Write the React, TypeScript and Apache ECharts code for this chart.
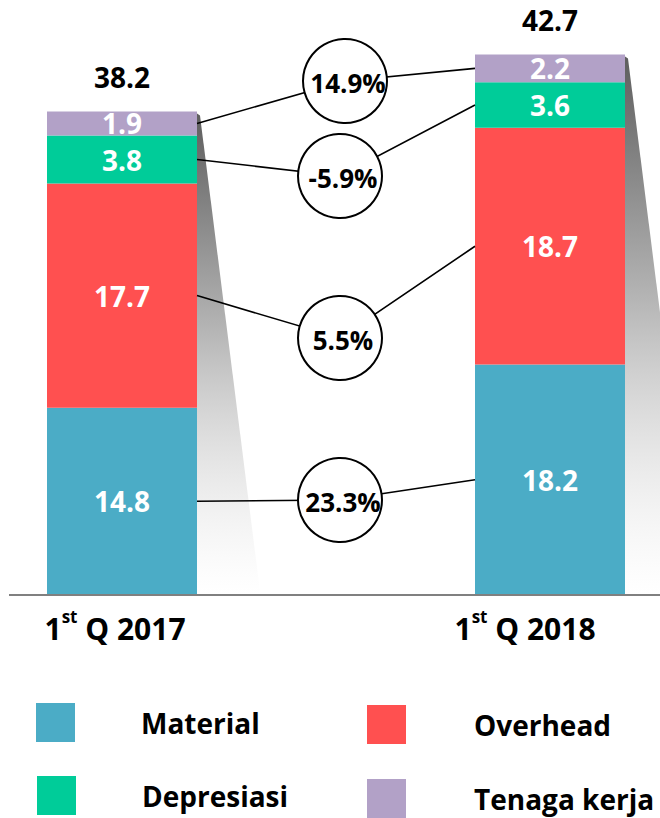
import React, { useEffect, useRef } from "react";
import * as echarts from "echarts";

// ---- data ----
const categories = ["1st Q 2017", "1st Q 2018"];
const seriesNames = ["Material", "Overhead", "Depresiasi", "Tenaga kerja"];
const material = [14.8, 18.2];
const overhead = [17.7, 18.7];
const depresiasi = [3.8, 3.6];
const tenagaKerja = [1.9, 2.2];
// growth labels per component (same order as seriesNames)
const growthLabels = ["23.3%", "5.5%", "-5.9%", "14.9%"];

// ---- styling / layout ----
const colors = ["#4BACC6", "#FF5050", "#00CC99", "#B2A1C7"];
const FONT = "Open Sans";
const BAR_W = 150;
const circleCenters = [
  [340, 500],
  [340, 338],
  [340, 176],
  [345, 81],
];
const catLabelPadding = [
  [0, 14, 0, 0],
  [0, 50, 0, 0],
];
// legend item positions (left, top, text padding-left), same order as seriesNames
const legendPos = [
  [36, 703, 61],
  [367, 705, 63],
  [37, 776, 61],
  [367, 779, 63],
];

export default function App() {
  const ref = useRef<HTMLDivElement>(null);

  useEffect(() => {
    if (!ref.current) return;
    const chart = echarts.init(ref.current, undefined, { renderer: "svg" });
    const seriesData = [material, overhead, depresiasi, tenagaKerja];
    const totals = categories.map((_, i) =>
      Math.round(seriesData.reduce((s, d) => s + d[i], 0) * 10) / 10
    );

    const labelStyle = {
      show: true,
      position: "inside",
      color: "#fff",
      fontSize: 28,
      fontWeight: "bold",
      fontFamily: FONT,
      formatter: (p: any) => Number(p.value).toFixed(1),
    };

    const option: any = {
      animation: false,
      textStyle: { fontFamily: FONT },
      grid: { left: 122, right: 110, top: 0, bottom: 223 },
      xAxis: {
        type: "category",
        boundaryGap: false,
        data: categories.map((c, i) => ({
          value: c,
          textStyle: { padding: catLabelPadding[i] },
        })),
        axisLine: { show: false },
        axisTick: { show: false },
        splitLine: { show: false },
        axisLabel: {
          margin: 13,
          interval: 0,
          formatter: (v: string) => {
            const m = v.match(/^(\d+)(st|nd|rd|th)(.*)$/);
            if (!m) return `{n|${v}}`;
            return `{n|${m[1]}}{s|${m[2]}}{n|${m[3]}}`;
          },
          rich: {
            n: {
              fontSize: 30,
              fontWeight: "bold",
              fontFamily: FONT,
              color: "#000",
              lineHeight: 40,
            },
            s: {
              fontSize: 17,
              fontWeight: "bold",
              fontFamily: FONT,
              color: "#000",
              lineHeight: 24,
              verticalAlign: "top",
            },
          },
        },
      },
      yAxis: { type: "value", min: 0, max: 47, show: false },
      legend: seriesNames.map((name, i) => ({
        data: [name],
        left: legendPos[i][0],
        top: legendPos[i][1],
        padding: 0,
        itemWidth: 39,
        itemHeight: 39,
        icon: "rect",
        selectedMode: false,
        textStyle: {
          fontSize: 28,
          fontWeight: "bold",
          color: "#000",
          fontFamily: FONT,
          padding: [0, 0, 0, legendPos[i][2]],
        },
      })),
      series: [
        ...seriesData.map((d, i) => ({
          name: seriesNames[i],
          type: "bar",
          stack: "cost",
          barWidth: BAR_W,
          barGap: "-100%",
          clip: false,
          data: d,
          itemStyle: { color: colors[i] },
          label: labelStyle,
        })),
        {
          name: "Total",
          type: "bar",
          barWidth: BAR_W,
          barGap: "-100%",
          clip: false,
          data: totals,
          silent: true,
          itemStyle: { color: "rgba(0,0,0,0)" },
          label: {
            show: true,
            position: "top",
            distance: 20,
            color: "#000",
            fontSize: 28,
            fontWeight: "bold",
            fontFamily: FONT,
            formatter: (p: any) => Number(p.value).toFixed(1),
          },
          z: 1,
        },
      ],
    };
    chart.setOption(option);

    // ---- annotations computed from the chart's scales ----
    const px = (ci: number, v: number) =>
      chart.convertToPixel({ xAxisIndex: 0, yAxisIndex: 0 }, [ci, v]) as number[];
    const base = px(0, 0)[1];
    const x1r = px(0, 0)[0] + BAR_W / 2;
    const x2l = px(1, 0)[0] - BAR_W / 2;
    const x2r = px(1, 0)[0] + BAR_W / 2;

    const graphics: any[] = [];
    // axis line
    graphics.push({
      type: "line",
      shape: { x1: 9, y1: base, x2: 660, y2: base },
      style: { stroke: "#808080", lineWidth: 2 },
      z: 3,
    });
    // shadows
    [x1r, x2r].forEach((xr, i) => {
      const top = px(i, totals[i])[1];
      const k = 0.125;
      graphics.push({
        type: "polygon",
        shape: {
          points: [
            [xr, top + 2],
            [xr + 3, top + 4],
            [xr + 3 + k * (base - top), base],
            [xr, base],
          ],
        },
        style: {
          fill: {
            type: "linear",
            x: 0,
            y: 0,
            x2: 0,
            y2: 1,
            colorStops: [
              { offset: 0, color: "#5e5e5e" },
              { offset: 0.45, color: "#b5b5b5" },
              { offset: 1, color: "rgba(255,255,255,0.4)" },
            ],
          },
        },
        z: 1,
      });
    });
    // connecting lines and growth circles
    let cum = [0, 0];
    seriesData.forEach((d, si) => {
      const mid1 = cum[0] + d[0] / 2;
      const mid2 = cum[1] + d[1] / 2;
      cum = [cum[0] + d[0], cum[1] + d[1]];
      const y1 = px(0, mid1)[1];
      const y2 = px(1, mid2)[1];
      const [cx, cy] = circleCenters[si];
      graphics.push({
        type: "polyline",
        shape: { points: [[x1r, y1], [cx, cy], [x2l, y2]] },
        style: { stroke: "#000", lineWidth: 1.6, fill: null },
        z: 5,
      });
      graphics.push({
        type: "circle",
        shape: { cx, cy, r: 42 },
        style: { fill: "#fff", stroke: "#000", lineWidth: 2 },
        z: 6,
      });
      graphics.push({
        type: "text",
        x: cx + 3,
        y: cy + 2,
        style: {
          text: growthLabels[si],
          fill: "#000",
          font: `bold 26px "${FONT}"`,
          align: "center",
          verticalAlign: "middle",
        },
        z: 7,
      });
    });
    chart.setOption({ graphic: graphics });

    return () => chart.dispose();
  }, []);

  return (
    <div
      ref={ref}
      style={{ position: "absolute", left: 0, top: 0, width: 660, height: 818 }}
    />
  );
}
